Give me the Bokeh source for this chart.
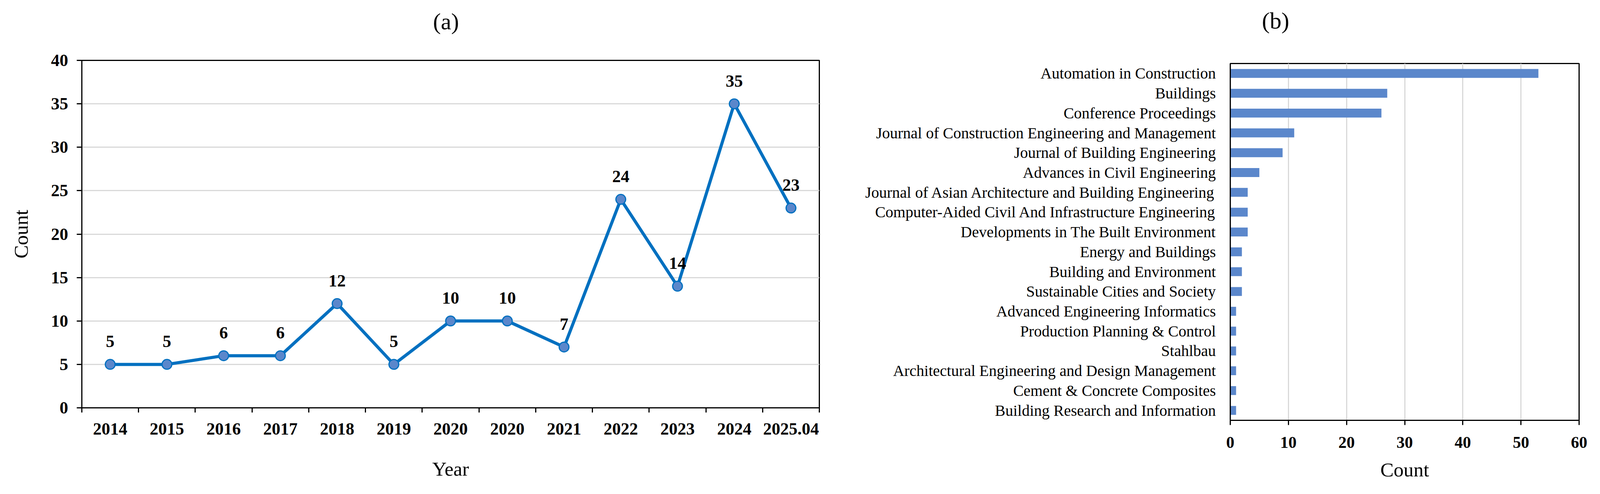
from bokeh.plotting import figure
from bokeh.layouts import row
from bokeh.models import Range1d, FactorRange, FixedTicker, ColumnDataSource, LabelSet, Title
from bokeh.core.properties import value
from bokeh.embed import file_html
from bokeh.resources import INLINE

years = ["2014", "2015", "2016", "2017", "2018", "2019", "2020", "2020",
         "2021", "2022", "2023", "2024", "2025.04"]
year_counts = [5, 5, 6, 6, 12, 5, 10, 10, 7, 24, 14, 35, 23]

journals = [
    "Automation in Construction",
    "Buildings",
    "Conference Proceedings",
    "Journal of Construction Engineering and Management",
    "Journal of Building Engineering",
    "Advances in Civil Engineering",
    "Journal of Asian Architecture and Building Engineering",
    "Computer-Aided Civil And Infrastructure Engineering",
    "Developments in The Built Environment",
    "Energy and Buildings",
    "Building and Environment",
    "Sustainable Cities and Society",
    "Advanced Engineering Informatics",
    "Production Planning & Control",
    "Stahlbau",
    "Architectural Engineering and Design Management",
    "Cement & Concrete Composites",
    "Building Research and Information",
]
journal_counts = [53, 27, 26, 11, 9, 5, 3, 3, 3, 2, 2, 2, 1, 1, 1, 1, 1, 1]

left_ticks = [0, 5, 10, 15, 20, 25, 30, 35, 40]
right_ticks = [0, 10, 20, 30, 40, 50, 60]

FONT = "Liberation Serif"
GRID = "#D9D9D9"
LINE = "#0070C0"
BAR = "#5B87CB"


def add_title(p, text, offset, gap):
    # spacer panel nearest to the frame, then the visible title above it
    p.add_layout(Title(text=" ", text_font=FONT, text_font_size="34px", standoff=gap), "above")
    p.add_layout(Title(text=text, align="left", offset=offset, standoff=0, vertical_align="middle",
                       text_font=FONT, text_font_size="60px", text_font_style="normal",
                       text_color="black"), "above")


# ---------------- (a) line chart ----------------
x_idx = list(range(len(years)))
src = ColumnDataSource(dict(x=x_idx, y=year_counts, lbl=[str(v) for v in year_counts]))

p1 = figure(width=2117, height=1240,
            x_range=Range1d(-0.5, len(years) - 0.5), y_range=Range1d(0, 40),
            output_backend="svg", toolbar_location=None,
            min_border_left=209, min_border_right=20,
            min_border_top=154, min_border_bottom=197)
p1.frame_align = False
add_title(p1, "(a)", 899, 27)

p1.line("x", "y", source=src, line_color=LINE, line_width=8)
p1.scatter("x", "y", source=src, size=25, fill_color=BAR, line_color=LINE, line_width=3)
p1.add_layout(LabelSet(x="x", y="y", text="lbl", source=src, y_offset=44,
                       text_align="center", text_baseline="alphabetic",
                       text_font=value(FONT), text_font_size=value("44px"),
                       text_font_style="bold", text_color="black"))

p1.outline_line_color = "black"
p1.outline_line_width = 3
p1.outline_line_alpha = 1.0
p1.xgrid.visible = False
p1.ygrid.grid_line_color = GRID
p1.ygrid.grid_line_width = 3
p1.ygrid.ticker = FixedTicker(ticks=left_ticks)

xa = p1.xaxis[0]
xa.ticker = FixedTicker(ticks=x_idx, minor_ticks=[i - 0.5 for i in range(len(years) + 1)])
xa.major_label_overrides = {i: y for i, y in enumerate(years)}
xa.major_tick_out = 0
xa.major_tick_in = 0
xa.minor_tick_out = 12
xa.minor_tick_in = 0
xa.minor_tick_line_color = "black"
xa.minor_tick_line_width = 3
xa.axis_line_color = "black"
xa.axis_line_width = 3
xa.major_label_standoff = 27
xa.major_label_text_font = FONT
xa.major_label_text_font_size = "44px"
xa.major_label_text_font_style = "bold"
xa.major_label_text_color = "black"
xa.axis_label = "Year"
xa.axis_label_text_font = FONT
xa.axis_label_text_font_size = "51px"
xa.axis_label_text_font_style = "normal"
xa.axis_label_text_color = "black"
xa.axis_label_standoff = 57

ya = p1.yaxis[0]
ya.ticker = FixedTicker(ticks=left_ticks)
ya.major_tick_out = 13
ya.major_tick_in = 0
ya.major_tick_line_width = 3
ya.major_tick_line_color = "black"
ya.minor_tick_out = 0
ya.minor_tick_in = 0
ya.axis_line_color = "black"
ya.axis_line_width = 3
ya.major_label_standoff = 22
ya.major_label_text_font = FONT
ya.major_label_text_font_size = "44px"
ya.major_label_text_font_style = "bold"
ya.major_label_text_color = "black"
ya.axis_label = "Count"
ya.axis_label_text_font = FONT
ya.axis_label_text_font_size = "51px"
ya.axis_label_text_font_style = "normal"
ya.axis_label_text_color = "black"
ya.axis_label_standoff = 46

# ---------------- (b) bar chart ----------------
p2 = figure(width=1967, height=1248,
            y_range=FactorRange(factors=journals[::-1]), x_range=Range1d(0, 60),
            output_backend="svg", toolbar_location=None,
            min_border_left=1032, min_border_right=42,
            min_border_top=162, min_border_bottom=173)
p2.frame_align = False
add_title(p2, "(b)", 81, 37)

p2.hbar(y=journals, right=journal_counts, left=0, height=0.45,
        fill_color=BAR, line_color=None)

p2.outline_line_color = "black"
p2.outline_line_width = 3
p2.outline_line_alpha = 1.0
p2.ygrid.visible = False
p2.xgrid.grid_line_color = GRID
p2.xgrid.grid_line_width = 3
p2.xgrid.ticker = FixedTicker(ticks=right_ticks)

xb = p2.xaxis[0]
xb.ticker = FixedTicker(ticks=right_ticks)
xb.major_tick_out = 12
xb.major_tick_in = 0
xb.major_tick_line_width = 3
xb.major_tick_line_color = "black"
xb.minor_tick_out = 0
xb.minor_tick_in = 0
xb.axis_line_color = "black"
xb.axis_line_width = 3
xb.major_label_standoff = 30
xb.major_label_text_font = FONT
xb.major_label_text_font_size = "42px"
xb.major_label_text_font_style = "bold"
xb.major_label_text_color = "black"
xb.axis_label = "Count"
xb.axis_label_text_font = FONT
xb.axis_label_text_font_size = "51px"
xb.axis_label_text_font_style = "normal"
xb.axis_label_text_color = "black"
xb.axis_label_standoff = 25

yb = p2.yaxis[0]
yb.major_tick_out = 0
yb.major_tick_in = 0
yb.minor_tick_out = 0
yb.minor_tick_in = 0
yb.axis_line_color = "black"
yb.axis_line_width = 3
yb.major_label_standoff = 37
yb.major_label_text_font = FONT
yb.major_label_text_font_size = "40px"
yb.major_label_text_font_style = "normal"
yb.major_label_text_color = "black"

layout = row(p1, p2)
open("out.html", "w").write(file_html(layout, INLINE))
